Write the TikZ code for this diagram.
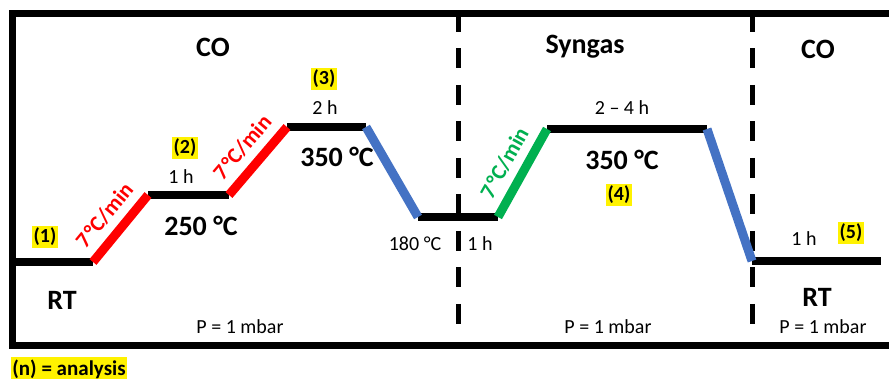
\documentclass[tikz,border=0pt]{standalone}
\usepackage{fontspec}
\setmainfont{Carlito}
\usetikzlibrary{positioning}
\definecolor{rampred}{RGB}{255,0,0}
\definecolor{rampblue}{RGB}{68,114,196}
\definecolor{rampgreen}{RGB}{0,176,80}

\begin{document}
\begin{tikzpicture}[x=1pt, y=-1pt, line join=miter,
    frameline/.style={line width=7pt},
    hold/.style={line width=8pt},
    heat/.style={line width=9pt, rampred},
    cool/.style={line width=9pt, rampblue},
    gasheat/.style={line width=9pt, rampgreen},
    divider/.style={line width=5pt, dash pattern=on 20pt off 16.5pt},
    lbl/.style={font=\fontsize{20}{24}\selectfont, inner sep=0pt},
    big/.style={font=\fontsize{28}{32}\selectfont\bfseries, inner sep=0pt},
    rate/.style={font=\fontsize{22}{26}\selectfont\bfseries, sloped, midway, above=8pt, inner sep=0pt},
    stepno/.style={fill=yellow, font=\fontsize{20}{24}\selectfont\bfseries, inner xsep=1.5pt, inner ysep=2.5pt}]
    \useasboundingbox (0,0) rectangle (889,379);
    \fill[white] (0,0) rectangle (889,379);

    % frame and gas changes
    \draw[frameline] (895,14) -- (12,14) -- (12,346) -- (895,346);
    \coordinate (d1top) at (458,12);
    \coordinate (d1bot) at (458,330);
    \coordinate (d2top) at (752,12);
    \coordinate (d2bot) at (752,330);
    \draw[divider] (d1top) -- (d1bot);
    \draw[divider] (d2top) -- (d2bot);

    % temperature profile
    \coordinate (p0) at (14,262);
    \coordinate (p1) at (93,262);
    \coordinate (p2) at (148,195);
    \coordinate (p3) at (229,195);
    \coordinate (p4) at (287,127);
    \coordinate (p5) at (366,127);
    \coordinate (p6) at (418,217);
    \coordinate (p7) at (498,217);
    \coordinate (p8) at (547,129);
    \coordinate (p9) at (707,129);
    \coordinate (p10) at (752,261);
    \coordinate (p11) at (881,261);

    \draw[hold] (p0) -- (p1);
    \draw[hold] (p2) -- (p3);
    \draw[hold] (p4) -- (p5);
    \draw[hold] (p6) -- (p7);
    \draw[hold] (p8) -- (p9);
    \draw[hold] (p10) -- (p11);
    \draw[heat] (p1) -- (p2) node[rate, rampred] {7\kern2pt°C/min};
    \draw[heat] (p3) -- (p4) node[rate, rampred] {7\kern2pt°C/min};
    \draw[cool] (p5) -- (p6);
    \draw[gasheat] (p7) -- (p8) node[rate, rampgreen] {7\kern2pt°C/min};
    \draw[cool] (p9) -- (p10);

    % gases
    \node[big] (co1) at (213,47) {CO};
    \node[big] (syngas) at (585,47) {Syngas};
    \node[big] (co2) at (818,49) {CO};

    % temperatures
    \node[big] (rt1) at (62,300) {RT};
    \node[big] (t250) at (201,226) {250 °C};
    \node[big] (t350a) at (337,157) {350 °C};
    \node[lbl] (t180) at (415,244) {180 °C};
    \node[big] (t350b) at (622,160) {350 °C};
    \node[big] (rt2) at (817,297) {RT};

    % hold times
    \node[lbl] (h1) at (181,177) {1 h};
    \node[lbl] (h2) at (325,108) {2 h};
    \node[lbl] (h3) at (480,244) {1 h};
    \node[lbl] (h4) at (622,108) {2 – 4 h};
    \node[lbl] (h5) at (804,239) {1 h};

    % analysis points
    \node[stepno] (a1) at (45,237) {(1)};
    \node[stepno] (a2) at (185,148) {(2)};
    \node[stepno] (a3) at (324,79) {(3)};
    \node[stepno] (a4) at (619,195) {(4)};
    \node[stepno] (a5) at (851,233) {(5)};

    % pressure
    \node[lbl] (pr1) at (240,327) {P = 1 mbar};
    \node[lbl] (pr2) at (608,327) {P = 1 mbar};
    \node[lbl] (pr3) at (823,327) {P = 1 mbar};

    \node[stepno, font=\fontsize{21}{25}\selectfont\bfseries] (legend) at (69,369) {(n) = analysis};
\end{tikzpicture}
\end{document}
